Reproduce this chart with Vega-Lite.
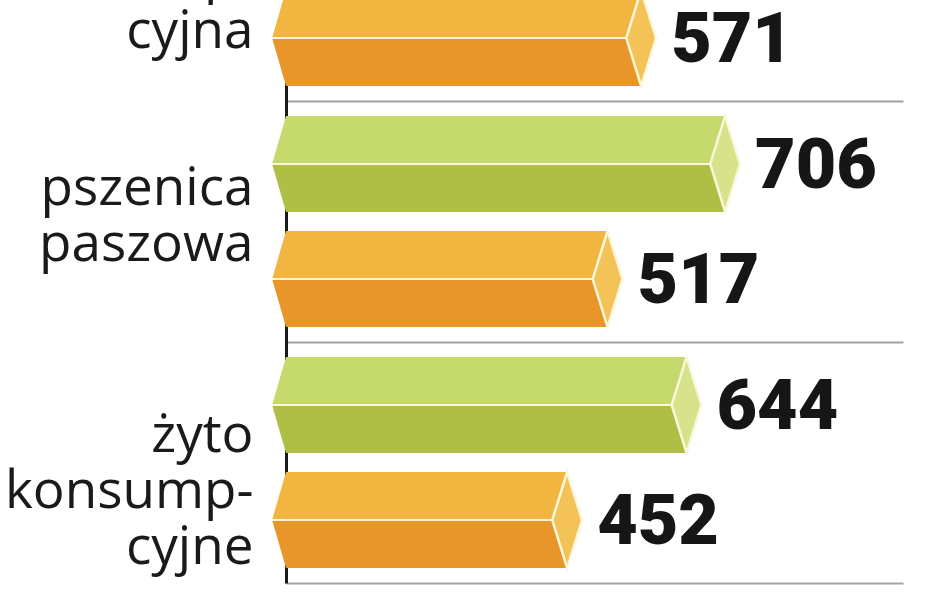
{
  "$schema": "https://vega.github.io/schema/vega-lite/v6.json",
  "width": 617,
  "height": 593,
  "autosize": {"type": "none"},
  "padding": {"left": 286, "top": 0, "right": 45, "bottom": 0},
  "background": "white",
  "config": {"view": {"stroke": null}},
  "data": {
    "values": [
      {"uprawa": "pszenica konsumpcyjna", "seria": "okres 2", "wartosc": 571},
      {"uprawa": "pszenica paszowa", "seria": "okres 1", "wartosc": 706},
      {"uprawa": "pszenica paszowa", "seria": "okres 2", "wartosc": 517},
      {"uprawa": "żyto konsumpcyjne", "seria": "okres 1", "wartosc": 644},
      {"uprawa": "żyto konsumpcyjne", "seria": "okres 2", "wartosc": 452}
    ]
  },
  "encoding": {
    "y": {
      "field": "uprawa",
      "type": "nominal",
      "scale": {
        "domain": ["pszenica konsumpcyjna", "pszenica paszowa", "żyto konsumpcyjne"],
        "range": [-140, 583],
        "paddingInner": 0,
        "paddingOuter": 0
      },
      "axis": {
        "title": null,
        "orient": "left",
        "domain": true,
        "domainColor": "#1a1a1a",
        "domainWidth": 3,
        "ticks": false,
        "grid": true,
        "gridColor": "#a3a3a3",
        "gridWidth": 2,
        "tickBand": "extent",
        "labelExpr": "datum.value ? split(replace(replace(datum.value, 'konsumpcyjn', 'konsump-|cyjn'), ' ', '|'), '|') : ''",
        "labelFont": "Open Sans",
        "labelFontSize": 53,
        "labelColor": "#1a1a1a",
        "labelPadding": 33,
        "labelLineHeight": 56,
        "labelBaseline": "middle",
        "labelAlign": "right",
        "labelLimit": 0,
        "labelBound": false,
        "labelOverlap": false,
        "labelOffset": {
          "condition": [
            {"test": "datum.value == 'pszenica konsumpcyjna'", "value": -61},
            {"test": "datum.value == 'pszenica paszowa'", "value": -33}
          ],
          "value": -27
        }
      }
    },
    "yOffset": {
      "field": "seria",
      "type": "nominal",
      "scale": {"domain": ["okres 1", "okres 2"], "paddingInner": 0.165, "paddingOuter": 0.13}
    },
    "x": {
      "field": "wartosc",
      "type": "quantitative",
      "scale": {"domain": [0, 992], "nice": false},
      "axis": null
    }
  },
  "layer": [
    {
      "mark": {"type": "bar", "strokeWidth": 0},
      "encoding": {
        "fill": {
          "condition": {
            "test": "datum.seria === 'okres 1'",
            "value": {
              "gradient": "linear", "x1": 0, "y1": 0, "x2": 0, "y2": 1,
              "stops": [
                {"offset": 0, "color": "#C6D96C"},
                {"offset": 0.485, "color": "#C6D96C"},
                {"offset": 0.485, "color": "#FBF7D8"},
                {"offset": 0.515, "color": "#FBF7D8"},
                {"offset": 0.515, "color": "#AFBF46"},
                {"offset": 1, "color": "#AFBF46"}
              ]
            }
          },
          "value": {
            "gradient": "linear", "x1": 0, "y1": 0, "x2": 0, "y2": 1,
            "stops": [
              {"offset": 0, "color": "#F2B540"},
              {"offset": 0.485, "color": "#F2B540"},
              {"offset": 0.485, "color": "#FFF4D6"},
              {"offset": 0.515, "color": "#FFF4D6"},
              {"offset": 0.515, "color": "#E8962A"},
              {"offset": 1, "color": "#E8962A"}
            ]
          }
        }
      }
    },
    {
      "mark": {
        "type": "point",
        "filled": true,
        "opacity": 1,
        "strokeWidth": 0,
        "size": 9216,
        "shape": "M0.06,-1L0,-1L-0.29,0L0,1L0.06,1Z"
      },
      "encoding": {
        "x": {"datum": 0},
        "fill": {
          "condition": {
            "test": "datum.seria === 'okres 1'",
            "value": {
              "gradient": "linear", "x1": 0, "y1": 0, "x2": 0, "y2": 1,
              "stops": [
                {"offset": 0, "color": "#C6D96C"},
                {"offset": 0.485, "color": "#C6D96C"},
                {"offset": 0.485, "color": "#FBF7D8"},
                {"offset": 0.515, "color": "#FBF7D8"},
                {"offset": 0.515, "color": "#AFBF46"},
                {"offset": 1, "color": "#AFBF46"}
              ]
            }
          },
          "value": {
            "gradient": "linear", "x1": 0, "y1": 0, "x2": 0, "y2": 1,
            "stops": [
              {"offset": 0, "color": "#F2B540"},
              {"offset": 0.485, "color": "#F2B540"},
              {"offset": 0.485, "color": "#FFF4D6"},
              {"offset": 0.515, "color": "#FFF4D6"},
              {"offset": 0.515, "color": "#E8962A"},
              {"offset": 1, "color": "#E8962A"}
            ]
          }
        }
      }
    },
    {
      "mark": {
        "type": "point",
        "filled": true,
        "opacity": 1,
        "size": 9216,
        "stroke": "#FBF7DC",
        "strokeWidth": 2.5,
        "shape": "M0,-1L0.31,0L0,1L-0.31,0Z"
      },
      "encoding": {
        "fill": {
          "condition": {"test": "datum.seria === 'okres 1'", "value": "#D6E38A"},
          "value": "#F4C358"
        }
      }
    },
    {
      "mark": {
        "type": "text",
        "align": "left",
        "baseline": "middle",
        "dx": 30,
        "dy": 3,
        "font": "Roboto",
        "fontWeight": 900,
        "fontSize": 70,
        "color": "#161616"
      },
      "encoding": {
        "text": {"field": "wartosc", "type": "quantitative"}
      }
    }
  ]
}
